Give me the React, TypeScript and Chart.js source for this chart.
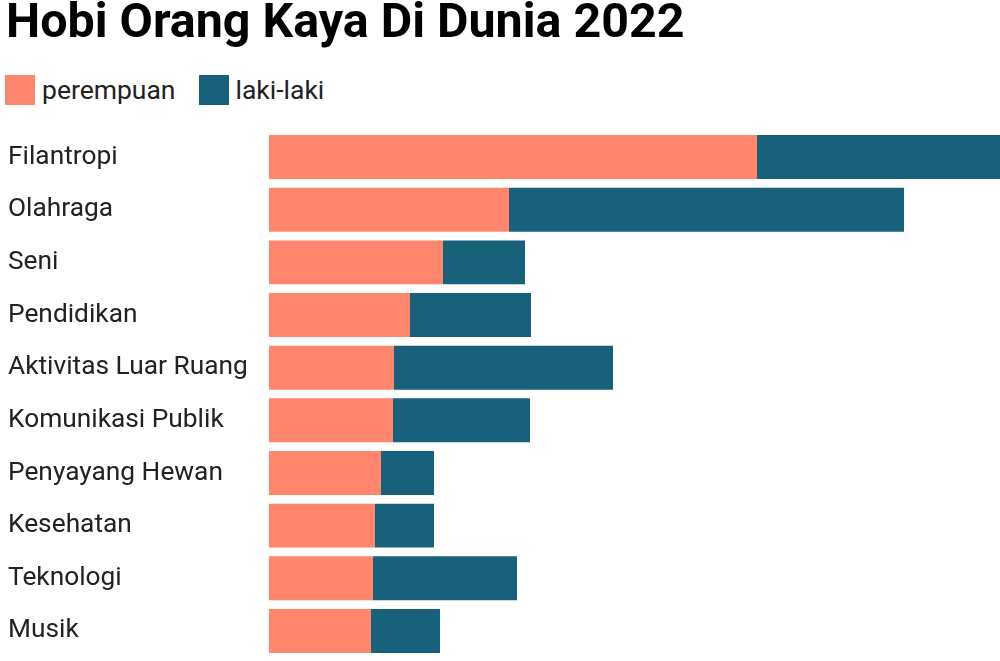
import React, { useEffect, useRef } from "react";
import { Chart, registerables } from "chart.js";

Chart.register(...registerables);

const TITLE = "Hobi Orang Kaya Di Dunia 2022";
const categories = [
  "Filantropi",
  "Olahraga",
  "Seni",
  "Pendidikan",
  "Aktivitas Luar Ruang",
  "Komunikasi Publik",
  "Penyayang Hewan",
  "Kesehatan",
  "Teknologi",
  "Musik",
];
const seriesNames = ["perempuan", "laki-laki"];
const perempuan = [48.8, 24.0, 17.4, 14.1, 12.5, 12.4, 11.2, 10.6, 10.4, 10.2];
const lakiLaki = [24.3, 39.5, 8.2, 12.1, 21.9, 13.7, 5.3, 5.9, 14.4, 6.9];
const colors = ["#FF866D", "#18617B"];
const X_MAX = 73.1;

export default function App() {
  const ref = useRef<HTMLCanvasElement | null>(null);

  useEffect(() => {
    document.body.style.margin = "0";
    if (!ref.current) return;
    const chart = new Chart(ref.current, {
      type: "bar",
      data: {
        labels: categories,
        datasets: [
          { label: seriesNames[0], data: perempuan, backgroundColor: colors[0], borderWidth: 0 },
          { label: seriesNames[1], data: lakiLaki, backgroundColor: colors[1], borderWidth: 0 },
        ],
      },
      options: {
        indexAxis: "y",
        animation: false,
        responsive: false,
        maintainAspectRatio: false,
        layout: { padding: { left: 8, right: 0, top: 0, bottom: 0 } },
        plugins: {
          legend: { display: false },
          title: { display: false },
          tooltip: { enabled: false },
        },
        datasets: { bar: { barPercentage: 0.835, categoryPercentage: 1 } },
        scales: {
          x: { stacked: true, display: false, min: 0, max: X_MAX },
          y: {
            stacked: true,
            grid: { display: false, drawTicks: false },
            border: { display: false },
            ticks: {
              crossAlign: "far",
              padding: 0,
              color: "#222222",
              font: { family: "Roboto", size: 26.3 },
            },
            afterFit: (axis: any) => {
              axis.width = 261;
            },
          },
        },
      },
    });
    return () => chart.destroy();
  }, []);

  return (
    <div
      style={{
        position: "relative",
        width: 1000,
        height: 661,
        overflow: "hidden",
        background: "#fff",
        fontFamily: "Roboto",
      }}
    >
      <div
        style={{
          position: "absolute",
          left: 6,
          top: -7,
          fontSize: 48.4,
          fontWeight: 700,
          color: "#000",
          lineHeight: "56px",
          whiteSpace: "nowrap",
        }}
      >
        {TITLE}
      </div>
      <div style={{ position: "absolute", left: 5, top: 75, display: "flex", alignItems: "center", height: 30 }}>
        {seriesNames.map((n, i) => (
          <div key={n} style={{ display: "flex", alignItems: "center", marginRight: 23 }}>
            <span style={{ display: "inline-block", width: 30, height: 30, background: colors[i] }} />
            <span
              style={{
                marginLeft: 7,
                fontSize: 26.5,
                color: "#222",
                lineHeight: "30px",
              }}
            >
              {n}
            </span>
          </div>
        ))}
      </div>
      <canvas
        ref={ref}
        width={1000}
        height={558}
        style={{ position: "absolute", left: 0, top: 115, display: "block" }}
      />
    </div>
  );
}
